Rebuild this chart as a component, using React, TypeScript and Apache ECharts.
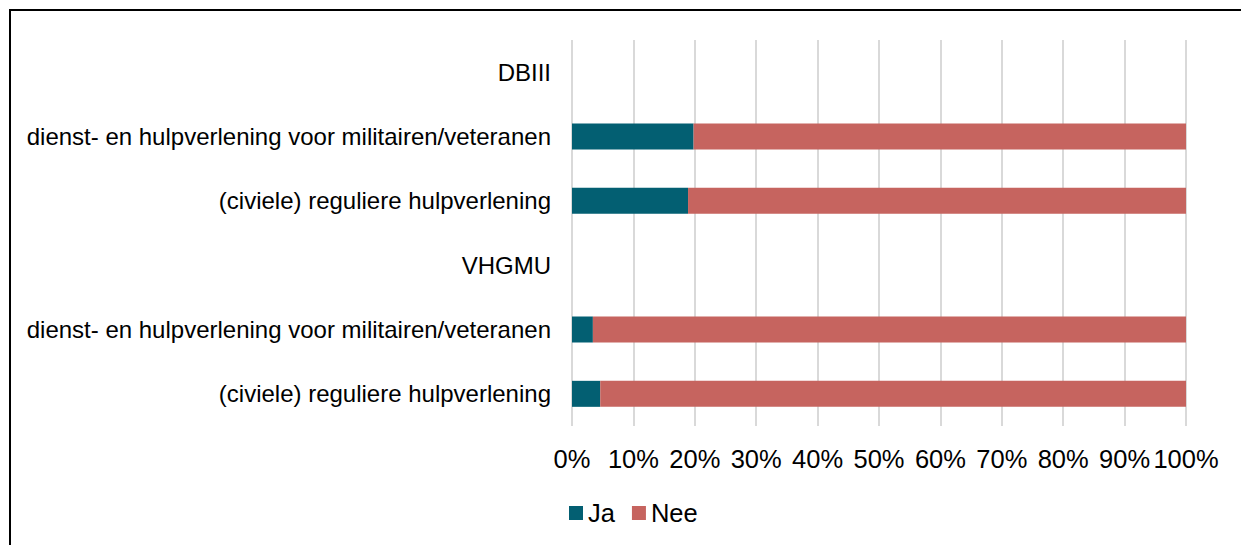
import React, { useEffect, useRef } from "react";
import * as echarts from "echarts";

const categories = [
  "DBIII",
  "dienst- en hulpverlening voor militairen/veteranen",
  "(civiele) reguliere hulpverlening",
  "VHGMU",
  "dienst- en hulpverlening voor militairen/veteranen",
  "(civiele) reguliere hulpverlening",
];
const jaValues: (number | null)[] = [null, 19.8, 18.9, null, 3.4, 4.6];
const neeValues: (number | null)[] = [null, 80.2, 81.1, null, 96.6, 95.4];
const seriesNames = ["Ja", "Nee"];
const colors = ["#035F72", "#C6645F"];

const FONT = "'Liberation Sans', Arial, sans-serif";

export default function App() {
  const ref = useRef<HTMLDivElement>(null);
  useEffect(() => {
    if (!ref.current) return;
    const chart = echarts.init(ref.current, null, { renderer: "svg" });
    chart.setOption({
      animation: false,
      textStyle: { fontFamily: FONT },
      grid: { left: 572, right: 55, top: 40, bottom: 119, containLabel: false },
      legend: {
        data: seriesNames,
        left: 564,
        top: 495,
        icon: "rect",
        itemWidth: 14,
        itemHeight: 14,
        itemGap: 17,
        textStyle: { fontSize: 25.5, color: "#000", fontFamily: FONT },
      },
      xAxis: {
        type: "value",
        min: 0,
        max: 100,
        interval: 10,
        axisLine: { show: false },
        axisTick: { show: false },
        splitLine: { show: true, lineStyle: { color: "#d9d9d9", width: 2 } },
        axisLabel: {
          formatter: "{value}%",
          fontSize: 25.5,
          color: "#000",
          fontFamily: FONT,
          margin: 20,
        },
      },
      yAxis: {
        type: "category",
        inverse: true,
        data: categories.map((_, i) => String(i)),
        axisLine: { show: false },
        axisTick: { show: false },
        splitLine: { show: false },
        axisLabel: {
          formatter: (v: string) => categories[Number(v)],
          fontSize: 24,
          color: "#000",
          fontFamily: FONT,
          margin: 21,
        },
      },
      series: [
        {
          name: seriesNames[0],
          type: "bar",
          stack: "total",
          barWidth: 26,
          itemStyle: { color: colors[0] },
          data: jaValues,
        },
        {
          name: seriesNames[1],
          type: "bar",
          stack: "total",
          barWidth: 26,
          itemStyle: { color: colors[1] },
          data: neeValues,
        },
      ],
    });
    return () => chart.dispose();
  }, []);
  return (
    <div style={{ position: "absolute", left: 0, top: 0, width: 1241, height: 545, background: "#fff" }}>
      <div ref={ref} style={{ position: "absolute", left: 0, top: 0, width: 1241, height: 545 }} />
      <div
        style={{
          position: "absolute",
          left: 9,
          top: 9,
          width: 1240,
          height: 545,
          borderTop: "2px solid #000",
          borderLeft: "2px solid #000",
          pointerEvents: "none",
        }}
      />
    </div>
  );
}
